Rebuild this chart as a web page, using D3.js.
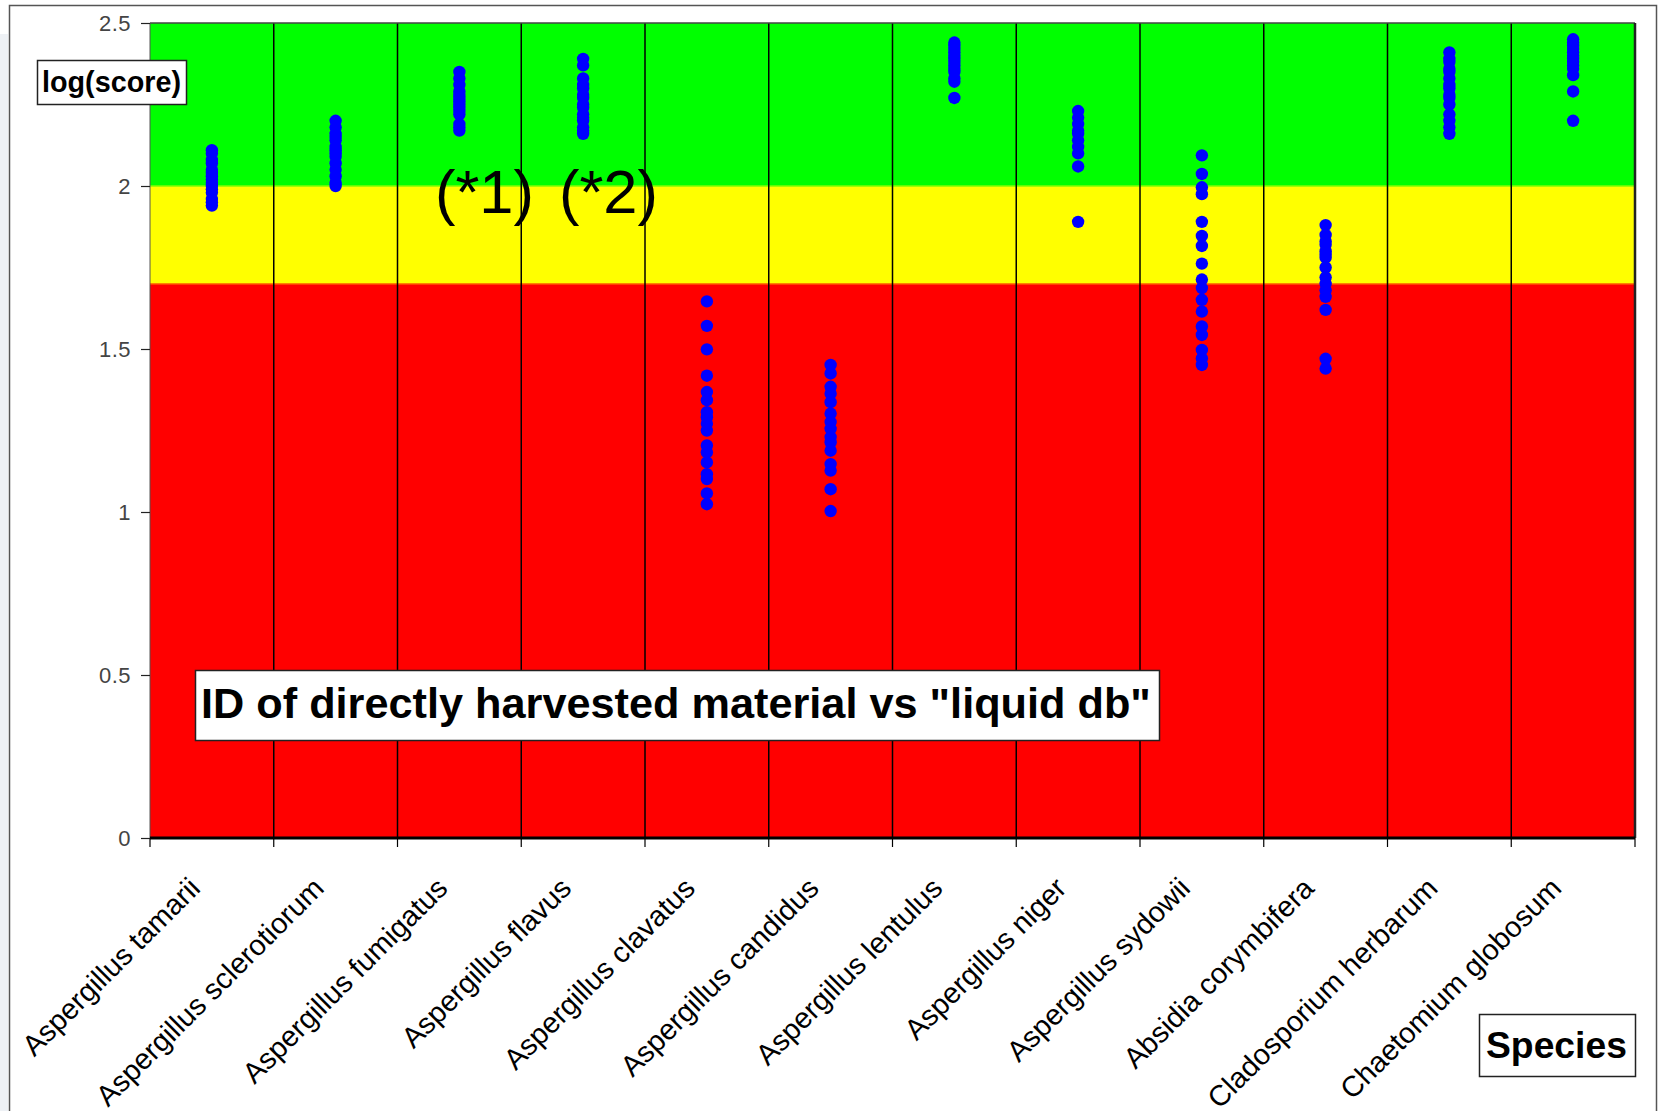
<!DOCTYPE html>
<html>
<head>
<meta charset="utf-8">
<script src="https://cdn.jsdelivr.net/npm/d3@7/dist/d3.min.js"></script>
<style>
  body { margin: 0; background: #ffffff; }
  text { font-family: Arial, "Liberation Sans", sans-serif; }
</style>
</head>
<body>
<div id="chart"></div>
<script>
// species on the x axis
var species = [
    "Aspergillus tamarii", "Aspergillus sclerotiorum", "Aspergillus fumigatus",
    "Aspergillus flavus", "Aspergillus clavatus", "Aspergillus candidus",
    "Aspergillus lentulus", "Aspergillus niger", "Aspergillus sydowii",
    "Absidia corymbifera", "Cladosporium herbarum", "Chaetomium globosum"
];

// log(score) values per species
var tamarii      = [2.11, 2.10, 2.08, 2.07, 2.05, 2.04, 2.03, 2.02, 2.01, 2.00, 1.99, 1.98, 1.96, 1.95, 1.94];
var sclerotiorum = [2.20, 2.18, 2.16, 2.15, 2.14, 2.12, 2.11, 2.10, 2.09, 2.07, 2.05, 2.03, 2.01, 2.00];
var fumigatus    = [2.35, 2.33, 2.31, 2.29, 2.28, 2.27, 2.26, 2.25, 2.24, 2.23, 2.22, 2.19, 2.18, 2.17];
var flavus       = [2.39, 2.37, 2.33, 2.31, 2.30, 2.28, 2.27, 2.25, 2.24, 2.22, 2.21, 2.20, 2.18, 2.17, 2.16];
var clavatus     = [1.646, 1.571, 1.499, 1.418, 1.368, 1.343, 1.306, 1.291, 1.271, 1.250, 1.204, 1.183, 1.152, 1.116, 1.101, 1.057, 1.024];
var candidus     = [1.451, 1.425, 1.384, 1.363, 1.337, 1.302, 1.276, 1.255, 1.230, 1.214, 1.188, 1.147, 1.127, 1.070, 1.003];
var lentulus     = [2.44, 2.43, 2.42, 2.41, 2.40, 2.39, 2.38, 2.37, 2.36, 2.35, 2.33, 2.32, 2.27];
var niger        = [2.23, 2.21, 2.19, 2.17, 2.16, 2.14, 2.12, 2.10, 2.06, 1.89];
var sydowii      = [2.094, 2.037, 1.996, 1.975, 1.890, 1.847, 1.816, 1.762, 1.713, 1.687, 1.651, 1.615, 1.569, 1.543, 1.497, 1.471, 1.451];
var corymbifera  = [1.88, 1.85, 1.83, 1.82, 1.80, 1.79, 1.78, 1.75, 1.72, 1.70, 1.68, 1.66, 1.62, 1.47, 1.44];
var herbarum     = [2.41, 2.39, 2.38, 2.36, 2.35, 2.33, 2.31, 2.30, 2.28, 2.27, 2.25, 2.22, 2.20, 2.18, 2.16];
var globosum     = [2.45, 2.44, 2.43, 2.42, 2.41, 2.40, 2.39, 2.38, 2.37, 2.36, 2.34, 2.29, 2.20];

var seriesValues = [tamarii, sclerotiorum, fumigatus, flavus, clavatus, candidus,
                    lentulus, niger, sydowii, corymbifera, herbarum, globosum];

// y axis ticks and the coloured zones (red / yellow / green)
var yTicks = [0, 0.5, 1, 1.5, 2, 2.5];
var zoneBreaks = [0, 1.7, 2, 2.5];

//---------------------------------------------------------------
var gColors = {
    zones : ["#ff0000", "#ffff00", "#00ff00"],
    zoneEdges : ["#ff8000", "#80ff00"],
    dot : "#0000ff"
};

var svg = d3.select("#chart").append("svg")
    .attr("width", 1659)
    .attr("height", 1111);

var x = d3.scaleBand().domain(species).range([150, 1635]);
var y = d3.scaleLinear().domain([0, 2.5]).range([838, 23]);

// screen background strip and outer frame
svg.append("rect").attr("x", 0).attr("y", 34).attr("width", 8).attr("height", 1077).attr("fill", "#eef1f5");
svg.append("rect").attr("x", 9.5).attr("y", 5.5).attr("width", 1647).attr("height", 1120)
    .attr("fill", "#ffffff").attr("stroke", "#555").attr("stroke-width", 1.5);

// zones
var zones = d3.range(zoneBreaks.length - 1).map(function(i){
    return { lo : zoneBreaks[i], hi : zoneBreaks[i + 1], color : gColors.zones[i] };
});
svg.append("g").selectAll("rect").data(zones).enter().append("rect")
    .attr("x", x.range()[0])
    .attr("width", x.range()[1] - x.range()[0])
    .attr("y", function(d){ return y(d.hi); })
    .attr("height", function(d){ return y(d.lo) - y(d.hi); })
    .attr("fill", function(d){ return d.color; });

// soft edges between zones
svg.append("g").selectAll("line").data(zoneBreaks.slice(1, 3)).enter().append("line")
    .attr("x1", x.range()[0]).attr("x2", x.range()[1])
    .attr("y1", function(d){ return y(d); }).attr("y2", function(d){ return y(d); })
    .attr("stroke", function(d, i){ return gColors.zoneEdges[i]; })
    .attr("stroke-width", 1.5);

// column separators + ticks below axis
var edges = species.map(function(s){ return x(s); }).concat([x.range()[1]]);
svg.append("g").selectAll("line").data(edges.slice(1, edges.length - 1)).enter().append("line")
    .attr("x1", function(d){ return d; }).attr("x2", function(d){ return d; })
    .attr("y1", y(2.5)).attr("y2", y(0))
    .attr("stroke", "#000").attr("stroke-width", 1.5);
svg.append("g").selectAll("line").data(edges).enter().append("line")
    .attr("x1", function(d){ return d; }).attr("x2", function(d){ return d; })
    .attr("y1", y(0)).attr("y2", y(0) + 9)
    .attr("stroke", "#000").attr("stroke-width", 1.2);

// plot border
svg.append("line").attr("x1", x.range()[0]).attr("x2", x.range()[1]).attr("y1", y(2.5)).attr("y2", y(2.5))
    .attr("stroke", "#444").attr("stroke-width", 1.5);
svg.append("line").attr("x1", x.range()[1]).attr("x2", x.range()[1]).attr("y1", y(2.5)).attr("y2", y(0))
    .attr("stroke", "#222").attr("stroke-width", 2.5);
svg.append("line").attr("x1", x.range()[0]).attr("x2", x.range()[0]).attr("y1", y(2.5)).attr("y2", y(0))
    .attr("stroke", "#555").attr("stroke-width", 1);
svg.append("line").attr("x1", x.range()[0]).attr("x2", x.range()[1]).attr("y1", y(0)).attr("y2", y(0))
    .attr("stroke", "#000").attr("stroke-width", 3);

// y axis
var yAxis = svg.append("g")
    .attr("transform", "translate(" + x.range()[0] + ",0)")
    .call(d3.axisLeft(y).tickValues(yTicks).tickFormat(d3.format("")).tickSize(9).tickPadding(10));
yAxis.select(".domain").remove();
yAxis.selectAll("line").attr("stroke", "#222").attr("stroke-width", 1.2);
yAxis.selectAll("text")
    .attr("font-size", 22)
    .attr("font-family", "Arial, 'Liberation Sans', sans-serif")
    .attr("letter-spacing", 0.5)
    .attr("fill", "#444");

// dots
var points = [];
seriesValues.forEach(function(vals, i){
    vals.forEach(function(v){ points.push({ sp : species[i], v : v }); });
});
svg.append("g").selectAll("circle").data(points).enter().append("circle")
    .attr("cx", function(d){ return x(d.sp) + x.bandwidth() / 2; })
    .attr("cy", function(d){ return y(d.v); })
    .attr("r", 6.2)
    .attr("fill", gColors.dot);

// rotated species labels
svg.append("g").selectAll("text").data(species).enter().append("text")
    .attr("transform", function(d){
        return "translate(" + (x(d) + x.bandwidth() / 2 - 10) + ",890) rotate(-45)";
    })
    .attr("text-anchor", "end")
    .attr("font-size", 29)
    .attr("fill", "#000")
    .text(function(d){ return d; });

//---------------------------------------------------------------
// boxed text; font size is tuned so the text fills targetWidth
function boxText(pBox, pText, pX, pBaseline, pTargetWidth, pWeight){
    if(pBox){
        svg.append("rect")
            .attr("x", pBox[0] + 0.5).attr("y", pBox[1] + 0.5)
            .attr("width", pBox[2]).attr("height", pBox[3])
            .attr("fill", "#fff").attr("stroke", "#222").attr("stroke-width", 1.5);
    }
    var t = svg.append("text")
        .attr("x", pX).attr("y", pBaseline)
        .attr("font-weight", pWeight)
        .attr("font-size", 30)
        .attr("fill", "#000")
        .text(pText);
    var w = t.node().getComputedTextLength();
    t.attr("font-size", 30 * pTargetWidth / w);
    return t;
}

boxText([37, 60, 149, 44], "log(score)", 42, 92, 139, "bold");
boxText([195, 670, 964, 70], "ID of directly harvested material vs \"liquid db\"", 201, 718, 950, "bold");
boxText([1479, 1014, 156, 62], "Species", 1486, 1058, 141, "bold");
boxText(null, "(*1)", 435, 213, 99, "normal");
boxText(null, "(*2)", 559, 213, 99, "normal");
</script>
</body>
</html>
